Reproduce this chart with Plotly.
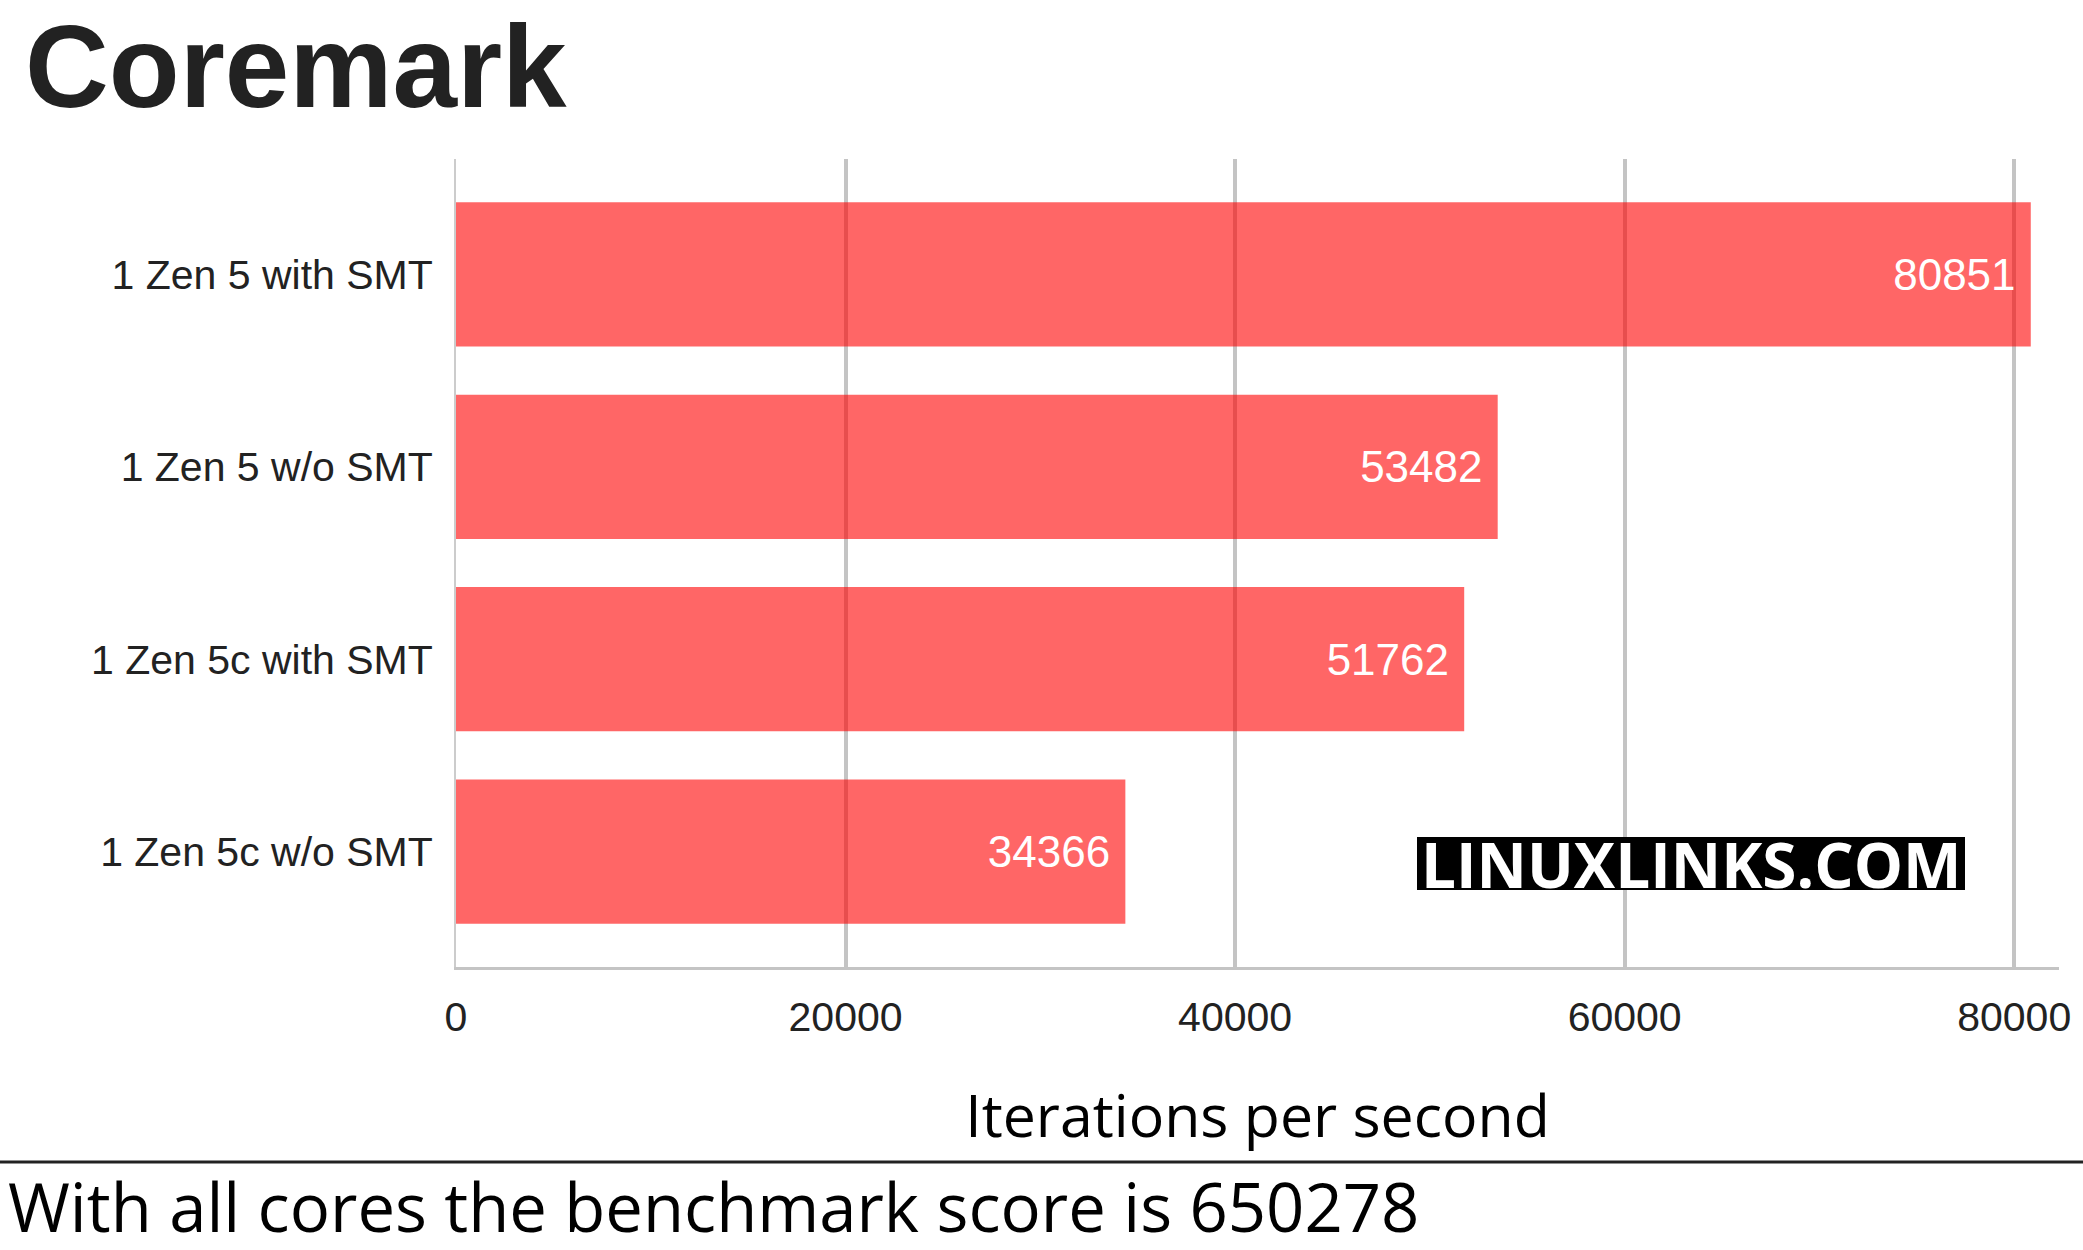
import plotly.graph_objects as go

categories = ["1 Zen 5 with SMT", "1 Zen 5 w/o SMT", "1 Zen 5c with SMT", "1 Zen 5c w/o SMT"]
values = [80851, 53482, 51762, 34366]
tick_vals = [0, 20000, 40000, 60000, 80000]
tick_text = ["0", "20000", "40000", "60000", "80000"]

W, H = 2083, 1250
L, R, T, B = 456, 24, 159, 283
pw, ph = W - L - R, H - T - B

def px(x):
    return (x - L) / pw

def py(y):
    return (H - B - y) / ph

fig = go.Figure()
fig.add_trace(go.Bar(
    x=values, y=categories, orientation="h",
    marker=dict(color="rgba(255,0,0,0.6)", line=dict(width=0)),
    width=0.75,
    text=[f"{v}\u00a0" for v in values],
    textposition="inside", insidetextanchor="end",
    textfont=dict(family="Liberation Sans, Arial, sans-serif", size=44, color="white"),
    constraintext="none",
    hoverinfo="skip",
))

fig.update_layout(
    width=W, height=H,
    margin=dict(l=L, r=R, t=T, b=B, pad=0),
    paper_bgcolor="white", plot_bgcolor="white",
    showlegend=False,
    title=dict(text="Coremark", x=25 / W, xref="container", xanchor="left",
               y=1 - 26 / H, yref="container", yanchor="top",
               font=dict(family="Liberation Sans, Arial, sans-serif", size=116, color="#222222", weight="bold")),
    xaxis=dict(range=[0, 82300], tickvals=tick_vals, ticktext=tick_text,
               showgrid=True, gridcolor="#c4c4c4", gridwidth=4, zeroline=False,
               showline=True, linecolor="#c4c4c4", linewidth=3,
               ticks="outside", ticklen=12, tickcolor="rgba(0,0,0,0)",
               tickfont=dict(family="Liberation Sans, Arial, sans-serif", size=41, color="#222222"),
               title=dict(text="Iterations per second", standoff=57,
                          font=dict(family="Open Sans, Noto Sans, sans-serif", size=59, color="black"))),
    yaxis=dict(categoryorder="array", categoryarray=categories, range=[3.6, -0.6],
               showgrid=False, zeroline=False, showline=True, linecolor="#cccccc", linewidth=2,
               ticks="outside", ticklen=13, tickcolor="rgba(0,0,0,0)",
               tickfont=dict(family="Liberation Sans, Arial, sans-serif", size=41, color="#222222")),
    shapes=[
        dict(type="line", xref="paper", yref="paper", x0=px(0), x1=px(W), y0=py(1162), y1=py(1162),
             line=dict(color="#222222", width=3)),
        dict(type="rect", xref="paper", yref="paper", x0=px(1417), x1=px(1965), y0=py(890), y1=py(837),
             fillcolor="black", line=dict(width=0), layer="above"),
    ],
    annotations=[
        dict(text="LINUXLINKS.COM", xref="paper", yref="paper", x=px(1691), y=py(864),
             xanchor="center", yanchor="middle", showarrow=False,
             font=dict(family="Open Sans, Noto Sans, sans-serif", size=62, color="white", weight="bold")),
        dict(text="With all cores the benchmark score is 650278", xref="paper", yref="paper",
             x=px(6), y=py(1206), xanchor="left", yanchor="middle", showarrow=False,
             font=dict(family="Open Sans, Noto Sans, sans-serif", size=67, color="black")),
    ],
)

fig.write_html("out.html", config={"displayModeBar": False},
               post_script="document.body.style.margin='0';")
